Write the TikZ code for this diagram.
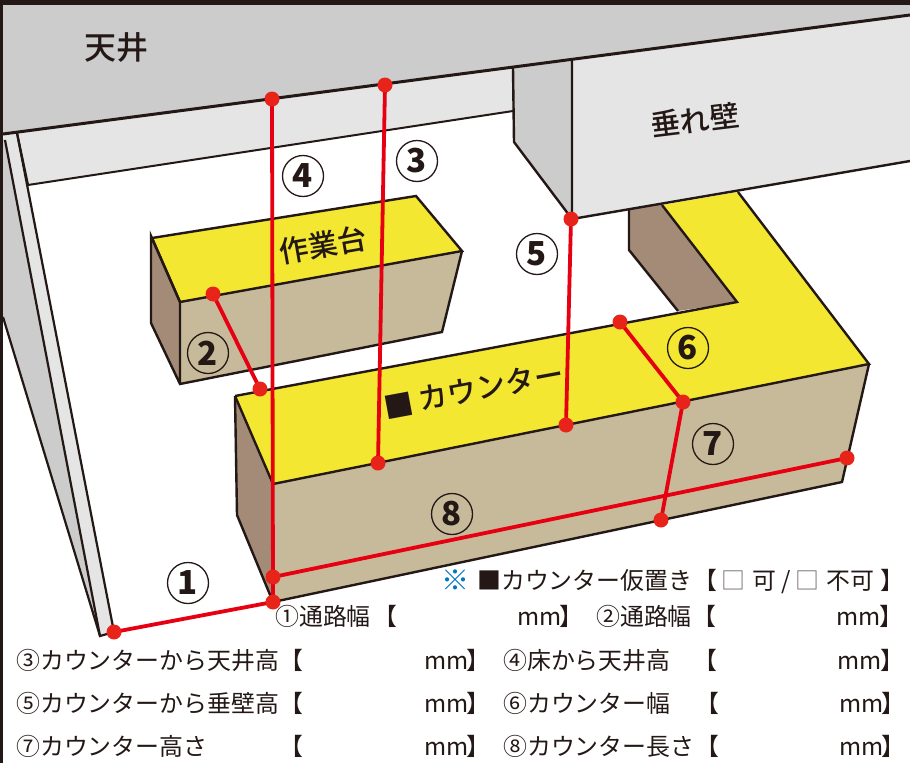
\documentclass[tikz,border=0pt]{standalone}
\usepackage{fontspec}
\newfontfamily\jp[BoldFont=Noto Sans CJK JP Black]{Noto Sans CJK JP}
\newfontfamily\jpm{Noto Sans CJK JP Medium}
\definecolor{ink}{HTML}{231815}
\definecolor{ylw}{HTML}{F3E731}
\definecolor{tan}{HTML}{C7BA9A}
\definecolor{brn}{HTML}{A38B78}
\definecolor{lgr}{HTML}{E5E5E5}
\definecolor{mgr}{HTML}{CCCCCC}
\definecolor{redl}{HTML}{E60012}
\definecolor{redd}{HTML}{E8231A}
\definecolor{blu}{HTML}{0075C2}
\tikzset{
  face/.style={draw=ink,line width=2.4pt,line join=miter},
  redline/.style={draw=redl,line width=3.8pt},
  dot/.style={circle,fill=redd,minimum size=15pt,inner sep=0pt},
  num/.style={circle,draw=ink,line width=1.3pt,minimum size=41pt,inner sep=0pt,text=ink,font=\jp\bfseries\fontsize{33}{33}\selectfont},
  lab/.style={anchor=base west,inner sep=0pt,text=ink,font=\jp\fontsize{23.9}{24}\selectfont},
  title/.style={inner sep=0pt,text=ink,font=\jpm\fontsize{29.5}{30}\selectfont},
}
\begin{document}
\begin{tikzpicture}[x=1pt,y=-1pt]
\useasboundingbox (0,0) rectangle (910,763);
\fill[white] (0,0) rectangle (910,763);
% back wall band
\fill[lgr] (3,134) -- (513,68) -- (513,111) -- (28,185) -- cycle;
\draw[ink,line width=2pt] (28,185) -- (513,111);
% left wall strips
\fill[lgr] (3,134) -- (17,133) -- (114,632) -- (100,636) -- cycle;
\fill[mgr] (3,137) -- (5,143) -- (100,636) -- (3,317) -- cycle;
\draw[ink,line width=2.2pt] (5,140) -- (100,636) -- (114,632) -- (17,133);
\draw[ink,line width=2.2pt] (28,185) -- (17,133);
\draw[ink,line width=2.2pt] (3,317) -- (100,636);
% bench
\fill[tan] (180,302) -- (462,251) -- (442,332) -- (180,384) -- cycle;
\fill[brn] (151,236) -- (180,302) -- (180,384) -- (151,323) -- cycle;
\fill[ylw] (152,238) -- (416,196) -- (462,251) -- (180,302) -- cycle;
\draw[face] (462,251) -- (442,332) -- (180,384) -- (151,323) -- (151,236) -- (180,302) -- (180,384);
\draw[face] (152,238) -- (416,196) -- (462,251) -- (180,302) -- cycle;
% inner counter side
\fill[brn] (629,205) -- (662,205) -- (737,302) -- (678,311) -- (629,250) -- cycle;
\draw[face] (629,205) -- (629,250) -- (678,311);
% counter
\fill[tan] (273,484) -- (869,364) -- (842,482) -- (273,602) -- cycle;
\fill[brn] (235,396) -- (273,484) -- (273,602) -- (237,515) -- cycle;
\fill[ylw] (235,396) -- (737,302) -- (662,205) -- (738,192) -- (869,364) -- (273,484) -- cycle;
\draw[face] (235,396) -- (737,302) -- (662,205);
\draw[face] (738,192) -- (869,364) -- (273,484) -- (235,396);
\draw[face] (869,364) -- (842,482) -- (273,602) -- (237,515) -- (235,396);
\draw[face] (273,484) -- (273,602);
% ceiling
\fill[mgr] (3,5) -- (910,5) -- (910,15) -- (3,134) -- cycle;
% drop wall
\fill[mgr] (513,68) -- (572,61) -- (572,219) -- (514,142) -- cycle;
\draw[face] (513,68) -- (514,142) -- (572,219);
\fill[lgr] (572,61) -- (910,15) -- (910,161) -- (572,219) -- cycle;
\draw[face] (572,61) -- (572,219) -- (910,161);
\draw[ink,line width=3pt] (3,134) -- (910,15);
% frame
\fill[ink] (0,0) rectangle (910,5);
\fill[ink] (0,0) rectangle (3,763);
% end points
\coordinate (a) at (114,632);
\coordinate (b) at (273,602);
\coordinate (c) at (273,577);
\coordinate (d) at (847,458);
\coordinate (e) at (272,99);
\coordinate (f) at (385,85);
\coordinate (g) at (378,463);
\coordinate (h) at (571,219);
\coordinate (i) at (566,425);
\coordinate (j) at (620,322);
\coordinate (k) at (683,402);
\coordinate (l) at (661,520);
\coordinate (m) at (213,294);
\coordinate (n) at (260,389);
% connectors
\draw[redline] (a) -- (b);
\draw[redline] (c) -- (d);
\draw[redline] (e) -- (b);
\draw[redline] (f) -- (g);
\draw[redline] (h) -- (i);
\draw[redline] (j) -- (k);
\draw[redline] (k) -- (l);
\draw[redline] (m) -- (n);
% dots
\foreach \p in {a,b,c,d,e,f,g,h,i,j,k,l,m,n} \node[dot] (dot\p) at (\p) {};
% numbered circles
\node[num] (n1) at (188,583) {1};
\node[num] (n2) at (208,353) {2};
\node[num] (n3) at (417,161) {3};
\node[num] (n4) at (303,176) {4};
\node[num] (n5) at (537,254) {5};
\node[num] (n6) at (688,348) {6};
\node[num] (n7) at (713,444) {7};
\node[num] (n8) at (452,514) {8};
% titles
\node[title,font=\jpm\fontsize{32}{32}\selectfont] (t1) at (116,48) {天井};
\node[title,rotate=7] (t2) at (695,120) {垂れ壁};
\node[title,rotate=10] (t3) at (323,245) {作業台};
\node[title,rotate=10.5,font=\jpm\fontsize{29.5}{30}\selectfont] (t4) at (399,406) {■};
\node[title,rotate=10.5,font=\jpm\fontsize{29.5}{30}\selectfont] (t5) at (491,386) {カウンター};
% rows
\node[lab,text=blu,font=\jp\fontsize{28}{28}\selectfont] (r0) at (441,590) {※};
\node[lab] (r0a) at (477,589) {■カウンター仮置き};
\node[lab] (r0b) at (693,589) {【};
\node[lab,text=ink!65] (r0c) at (721,589) {□};
\node[lab] (r0d) at (752,589) {可};
\node[lab] (r0e) at (781,589) {/};
\node[lab,text=ink!65] (r0f) at (795,589) {□};
\node[lab] (r0g) at (826,589) {不可};
\node[lab] (r0h) at (880,589) {】};

\node[lab] (r1a) at (275,625) {①通路幅};
\node[lab] (r1b) at (373,625) {【};
\node[lab] (r1c) at (517,625) {mm};
\node[lab] (r1d) at (559,625) {】};
\node[lab] (r1e) at (596,625) {②通路幅};
\node[lab] (r1f) at (692,625) {【};
\node[lab] (r1g) at (836,625) {mm};
\node[lab] (r1h) at (879,625) {】};

\node[lab] (r2a) at (16,669) {③カウンターから天井高};
\node[lab] (r2b) at (279,669) {【};
\node[lab] (r2c) at (424,669) {mm};
\node[lab] (r2d) at (466,669) {】};
\node[lab] (r2e) at (503,669) {④床から天井高};
\node[lab] (r2f) at (693,669) {【};
\node[lab] (r2g) at (837,669) {mm};
\node[lab] (r2h) at (880,669) {】};

\node[lab] (r3a) at (16,712) {⑤カウンターから垂壁高};
\node[lab] (r3b) at (279,712) {【};
\node[lab] (r3c) at (424,712) {mm};
\node[lab] (r3d) at (466,712) {】};
\node[lab] (r3e) at (503,712) {⑥カウンター幅};
\node[lab] (r3f) at (695,712) {【};
\node[lab] (r3g) at (839,712) {mm};
\node[lab] (r3h) at (881,712) {】};

\node[lab] (r4a) at (16,755) {⑦カウンター高さ};
\node[lab] (r4b) at (279,755) {【};
\node[lab] (r4c) at (424,755) {mm};
\node[lab] (r4d) at (466,755) {】};
\node[lab] (r4e) at (503,755) {⑧カウンター長さ};
\node[lab] (r4f) at (695,755) {【};
\node[lab] (r4g) at (839,755) {mm};
\node[lab] (r4h) at (881,755) {】};
\end{tikzpicture}
\end{document}
